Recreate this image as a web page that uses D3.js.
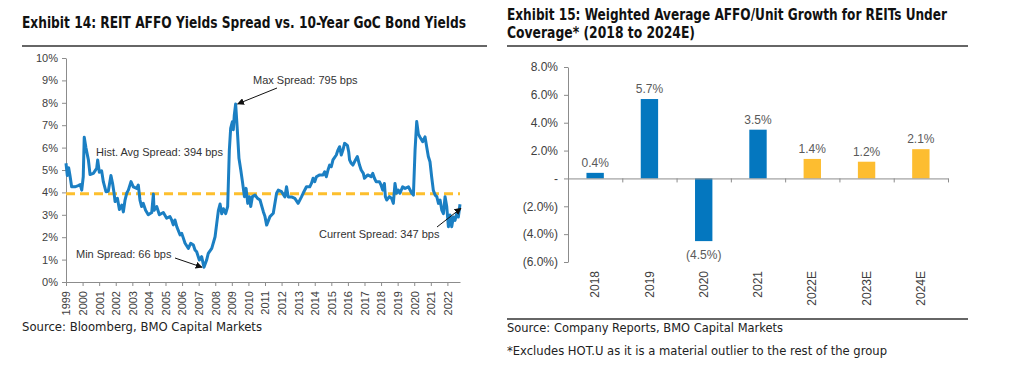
<!DOCTYPE html>
<html>
<head>
<meta charset="utf-8">
<script src="https://cdn.jsdelivr.net/npm/d3@7.9.0/dist/d3.min.js"></script>
<style>
  html, body { margin: 0; padding: 0; background: #fff; }
  svg { display: block; }
  .title { font-family: 'Liberation Sans Narrow', 'DejaVu Sans Condensed', 'Open Sans', sans-serif; font-weight: bold; font-size: 15px; fill: #111; }
  .note { font-family: 'Liberation Sans Narrow', 'DejaVu Sans Condensed', 'Open Sans', sans-serif; font-size: 13px; fill: #222; }
  .axis text { font-family: 'Liberation Sans', Arial, sans-serif; fill: #404040; }
  .axis path, .axis line { stroke: #8c8c8c; }
  .anno { font-family: 'Liberation Sans', Arial, sans-serif; font-size: 11px; fill: #333; }
  .barlabel { font-family: 'Liberation Sans', Arial, sans-serif; font-size: 12px; fill: #595959; }
</style>
</head>
<body>
<svg id="chart" width="1024" height="374"></svg>
<script>
// ---- Exhibit 14 data: spread (%) over time (decimal year) ----
const spreadYears = [
  1999.00, 1999.08, 1999.16, 1999.24, 1999.34, 1999.54, 1999.74, 1999.86, 1999.95,
  2000.04, 2000.10, 2000.20, 2000.35, 2000.45, 2000.65, 2000.85, 2000.91,
  2001.01, 2001.15, 2001.25, 2001.41, 2001.55, 2001.71, 2001.81, 2001.90, 2001.96,
  2002.10, 2002.22, 2002.36, 2002.46, 2002.56, 2002.66, 2002.76, 2002.92,
  2003.06, 2003.26, 2003.36, 2003.46, 2003.56, 2003.66, 2003.80, 2003.96,
  2004.17, 2004.27, 2004.31, 2004.47, 2004.63, 2004.87,
  2005.07, 2005.27, 2005.37, 2005.47, 2005.57, 2005.68, 2005.88, 2005.98,
  2006.18, 2006.38, 2006.52, 2006.68, 2006.78, 2006.88,
  2007.04, 2007.18, 2007.32, 2007.48, 2007.58, 2007.79, 2007.99,
  2008.09, 2008.19, 2008.29, 2008.39, 2008.49, 2008.63, 2008.75, 2008.85, 2008.93,
  2009.03, 2009.09, 2009.15, 2009.23, 2009.33, 2009.43, 2009.54, 2009.64, 2009.76, 2009.86, 2009.96,
  2010.06, 2010.14, 2010.24, 2010.40, 2010.54, 2010.70, 2010.90,
  2011.00, 2011.10, 2011.30, 2011.50, 2011.70, 2011.80,
  2012.00, 2012.20, 2012.30, 2012.40, 2012.60, 2012.80,
  2013.00, 2013.20, 2013.30, 2013.50, 2013.70, 2013.80, 2013.90,
  2014.00, 2014.10, 2014.30, 2014.50, 2014.60, 2014.70, 2014.80, 2014.90,
  2015.00, 2015.10, 2015.30, 2015.40, 2015.50, 2015.60, 2015.70, 2015.80, 2015.97,
  2016.05, 2016.10, 2016.20, 2016.30, 2016.40, 2016.57, 2016.70, 2016.80, 2016.93,
  2017.00, 2017.20, 2017.40, 2017.50, 2017.60, 2017.70, 2017.90,
  2018.00, 2018.10, 2018.20, 2018.26, 2018.34, 2018.50, 2018.64, 2018.74, 2018.84, 2018.94,
  2019.04, 2019.14, 2019.30, 2019.45, 2019.65, 2019.85, 2019.95,
  2020.05, 2020.15, 2020.25, 2020.35, 2020.51, 2020.65, 2020.75, 2020.85, 2020.95,
  2021.05, 2021.15, 2021.26, 2021.36, 2021.46, 2021.56, 2021.66, 2021.76, 2021.86, 2021.96,
  2022.06, 2022.16, 2022.26, 2022.36, 2022.46, 2022.56, 2022.66, 2022.76
];
const spreadValues = [
  5.30, 4.75, 5.10, 4.75, 4.25, 4.25, 4.30, 4.35, 4.10,
  4.70, 6.46, 6.00, 5.45, 4.80, 4.85, 5.07, 5.45,
  4.90, 4.96, 4.48, 4.03, 4.05, 4.75, 4.40, 3.96, 3.59,
  3.74, 3.24, 3.43, 3.13, 3.66, 3.96, 4.10, 4.48,
  4.25, 4.18, 4.33, 3.66, 3.37, 3.51, 3.20, 3.00,
  3.10, 3.93, 3.20, 3.37, 3.00, 3.10,
  2.85, 2.92, 2.77, 2.55, 2.77, 2.47, 2.10, 2.17,
  1.73, 1.50, 1.73, 1.65, 1.43, 1.35,
  0.98, 1.13, 0.66, 0.98, 1.28, 1.50, 2.02,
  2.62, 3.20, 3.48, 3.05, 3.27, 3.05, 3.37, 5.89, 6.86,
  7.15, 6.80, 7.46, 7.95, 6.80, 5.52, 5.00, 4.48, 3.81, 4.18, 3.51,
  3.81, 3.37, 3.81, 3.88, 3.74, 3.66, 3.14,
  2.92, 2.54, 2.92, 3.07, 3.96, 4.10,
  4.03, 3.80, 4.25, 3.80, 3.80, 3.73,
  3.51, 3.80, 3.96, 4.25, 4.25, 4.40, 4.63,
  4.48, 4.70, 4.78, 4.78, 4.92, 4.70, 5.00, 5.22,
  5.15, 5.45, 5.67, 5.89, 6.04, 5.67, 5.89, 6.19, 6.10,
  5.80, 5.45, 5.30, 5.22, 5.37, 5.60, 5.22, 5.00, 4.85,
  4.63, 4.78, 4.70, 4.85, 4.63, 4.48, 4.48,
  4.33, 4.10, 4.40, 3.81, 3.66, 3.81, 3.73, 3.51, 4.40, 3.96,
  4.10, 3.96, 4.25, 4.18, 4.25, 3.96, 3.88,
  5.89, 7.16, 6.60, 6.46, 6.26, 6.48, 6.04, 5.60, 5.37,
  4.70, 4.10, 3.88, 3.81, 3.51, 3.66, 3.21, 3.05, 3.81, 3.37,
  2.47, 2.99, 2.47, 2.90, 2.75, 3.05, 2.90, 3.47
];
const histAvgSpread = 3.94;
const spreadTickYears = d3.range(1999, 2023);
const spreadTickPct = d3.range(0, 11);

// ---- Exhibit 15 data ----
const growthCategories = ['2018', '2019', '2020', '2021', '2022E', '2023E', '2024E'];
const growthValues = [0.4, 5.7, -4.5, 3.5, 1.4, 1.2, 2.1];
const growthTicks = [-6, -4, -2, 0, 2, 4, 6, 8];

const svg = d3.select('#chart');

// arrow marker
svg.append('defs').append('marker')
  .attr('id', 'arrow')
  .attr('viewBox', '0 0 10 10')
  .attr('refX', 9).attr('refY', 5)
  .attr('markerWidth', 7).attr('markerHeight', 7)
  .attr('markerUnits', 'userSpaceOnUse')
  .attr('orient', 'auto')
  .append('path')
  .attr('d', 'M0,0 L10,5 L0,10 Z')
  .attr('fill', '#111');

// ================= Exhibit 14 =================
svg.append('text').attr('class', 'title')
  .attr('x', 22).attr('y', 28)
  .attr('textLength', 444).attr('lengthAdjust', 'spacingAndGlyphs')
  .text('Exhibit 14: REIT AFFO Yields Spread vs. 10-Year GoC Bond Yields');
svg.append('line').attr('x1', 22).attr('x2', 487).attr('y1', 46).attr('y2', 46)
  .attr('stroke', '#333').attr('stroke-width', 1.3);

const x1 = d3.scaleLinear().domain([1999, 2022.76]).range([66, 460]);
const y1 = d3.scaleLinear().domain([0, 10]).range([282, 58]);

const gy1 = svg.append('g').attr('class', 'axis').attr('transform', 'translate(66,0)')
  .call(d3.axisLeft(y1).tickValues(spreadTickPct).tickFormat(d => d + '%').tickSize(4).tickSizeOuter(0));
gy1.selectAll('text').style('font-size', '11px').attr('x', -8);

const gx1 = svg.append('g').attr('class', 'axis').attr('transform', 'translate(0,282)')
  .call(d3.axisBottom(x1).tickValues(spreadTickYears).tickFormat(d3.format('d')).tickSize(4).tickSizeOuter(0));
gx1.selectAll('text')
  .style('font-size', '11px')
  .attr('transform', 'rotate(-90)')
  .attr('x', -9).attr('y', 0).attr('dy', '0.35em')
  .style('text-anchor', 'end');

// average line
svg.append('line')
  .attr('x1', x1(1999)).attr('x2', x1(2022.76))
  .attr('y1', y1(histAvgSpread)).attr('y2', y1(histAvgSpread))
  .attr('stroke', '#fdbf2d').attr('stroke-width', 3)
  .attr('stroke-dasharray', '9,5');

const spreadData = spreadYears.map((t, i) => [t, spreadValues[i]]);
svg.append('path')
  .datum(spreadData)
  .attr('fill', 'none')
  .attr('stroke', '#1b7fc3')
  .attr('stroke-width', 3)
  .attr('stroke-linejoin', 'round')
  .attr('d', d3.line().x(d => x1(d[0])).y(d => y1(d[1])));

// annotations
const maxIdx = d3.maxIndex(spreadValues);
const minIdx = d3.minIndex(spreadValues);
const lastIdx = spreadValues.length - 1;

svg.append('text').attr('class', 'anno').attr('x', 253).attr('y', 84).text('Max Spread: 795 bps');
svg.append('line')
  .attr('x1', 277).attr('y1', 88)
  .attr('x2', x1(spreadYears[maxIdx]) + 2).attr('y2', y1(spreadValues[maxIdx]))
  .attr('stroke', '#111').attr('stroke-width', 1).attr('marker-end', 'url(#arrow)');

svg.append('text').attr('class', 'anno').attr('x', 96).attr('y', 156).text('Hist. Avg  Spread: 394 bps');

svg.append('text').attr('class', 'anno').attr('x', 76).attr('y', 258).text('Min Spread: 66 bps');
svg.append('line')
  .attr('x1', 175).attr('y1', 258)
  .attr('x2', x1(spreadYears[minIdx]) - 2).attr('y2', y1(spreadValues[minIdx]))
  .attr('stroke', '#111').attr('stroke-width', 1).attr('marker-end', 'url(#arrow)');

svg.append('text').attr('class', 'anno').attr('x', 319).attr('y', 238).text('Current Spread: 347 bps');
svg.append('line')
  .attr('x1', 437).attr('y1', 227)
  .attr('x2', x1(spreadYears[lastIdx]) + 1).attr('y2', y1(spreadValues[lastIdx]) + 4)
  .attr('stroke', '#111').attr('stroke-width', 1).attr('marker-end', 'url(#arrow)');

svg.append('text').attr('class', 'note')
  .attr('x', 22).attr('y', 331)
  .attr('textLength', 240).attr('lengthAdjust', 'spacingAndGlyphs')
  .text('Source: Bloomberg, BMO Capital Markets');

// ================= Exhibit 15 =================
svg.append('text').attr('class', 'title')
  .attr('x', 507).attr('y', 20)
  .attr('textLength', 440).attr('lengthAdjust', 'spacingAndGlyphs')
  .text('Exhibit 15: Weighted Average AFFO/Unit Growth for REITs Under');
svg.append('text').attr('class', 'title')
  .attr('x', 507).attr('y', 38)
  .attr('textLength', 188).attr('lengthAdjust', 'spacingAndGlyphs')
  .text('Coverage* (2018 to 2024E)');
svg.append('line').attr('x1', 507).attr('x2', 968).attr('y1', 46).attr('y2', 46)
  .attr('stroke', '#333').attr('stroke-width', 1.3);

const xb = d3.scaleBand().domain(growthCategories).range([568, 948]).paddingInner(0.68).paddingOuter(0.34);
const xi = d3.scaleLinear().domain([0, growthCategories.length]).range([568, 948]);
const yb = d3.scaleLinear().domain([-6, 8]).range([262, 67]);

const pctFmt = d3.format('.1f');
const fmtGrowth = v => v === 0 ? '-' : (v < 0 ? '(' + pctFmt(-v) + '%)' : pctFmt(v) + '%');

const gyb = svg.append('g').attr('class', 'axis').attr('transform', 'translate(568,0)')
  .call(d3.axisLeft(yb).tickValues(growthTicks).tickFormat(fmtGrowth).tickSize(4).tickSizeOuter(0));
gyb.selectAll('text').style('font-size', '12px').attr('x', -10);

svg.selectAll('rect.bar')
  .data(growthValues)
  .join('rect')
  .attr('class', 'bar')
  .attr('x', (d, i) => xb(growthCategories[i]))
  .attr('width', xb.bandwidth())
  .attr('y', d => yb(Math.max(0, d)))
  .attr('height', d => Math.abs(yb(d) - yb(0)))
  .attr('fill', (d, i) => growthCategories[i].endsWith('E') ? '#fdbd30' : '#0477bf');

// category axis (ticks at boundaries)
svg.append('g').attr('class', 'axis').attr('transform', `translate(0,${yb(0)})`)
  .call(d3.axisBottom(xi).tickValues(d3.range(1, growthCategories.length + 1)).tickFormat('').tickSize(4).tickSizeOuter(0));

const gxb = svg.append('g').attr('class', 'axis').attr('transform', 'translate(0,262)')
  .call(d3.axisBottom(xb).tickSize(0));
gxb.select('.domain').remove();
gxb.selectAll('text')
  .style('font-size', '12px')
  .attr('transform', 'rotate(-90)')
  .attr('x', -9).attr('y', 0).attr('dy', '0.35em')
  .style('text-anchor', 'end');

svg.selectAll('text.barlabel')
  .data(growthValues)
  .join('text')
  .attr('class', 'barlabel')
  .attr('text-anchor', 'middle')
  .attr('x', (d, i) => xb(growthCategories[i]) + xb.bandwidth() / 2)
  .attr('y', d => d >= 0 ? yb(d) - 6 : yb(d) + 18)
  .text(fmtGrowth);

svg.append('line').attr('x1', 507).attr('x2', 968).attr('y1', 319).attr('y2', 319)
  .attr('stroke', '#333').attr('stroke-width', 1.3);
svg.append('text').attr('class', 'note')
  .attr('x', 507).attr('y', 332)
  .attr('textLength', 276).attr('lengthAdjust', 'spacingAndGlyphs')
  .text('Source: Company Reports, BMO Capital Markets');
svg.append('text').attr('class', 'note')
  .attr('x', 507).attr('y', 355)
  .attr('textLength', 380).attr('lengthAdjust', 'spacingAndGlyphs')
  .text('*Excludes HOT.U as it is a material outlier to the rest of the group');
</script>
</body>
</html>
